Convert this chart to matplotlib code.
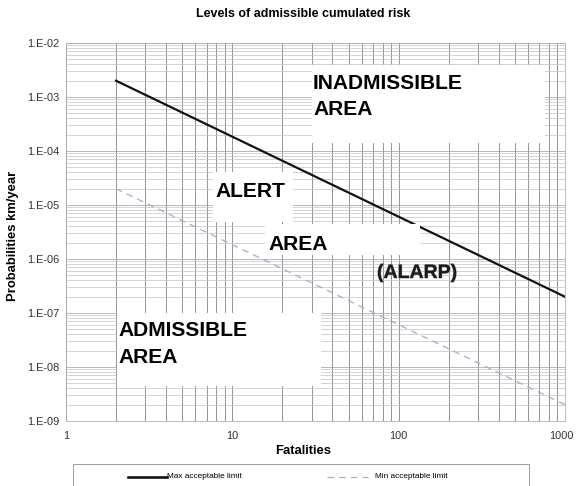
import matplotlib
matplotlib.use("Agg")
import matplotlib.pyplot as plt
from matplotlib.lines import Line2D
from matplotlib.patches import Rectangle
from matplotlib.ticker import FixedLocator, LogLocator, NullFormatter
from matplotlib.transforms import ScaledTranslation
import matplotlib.patheffects as pe

# Risk limit curves (fatalities vs. probability per km per year)
fatalities = [2, 1000]
max_limit = [2e-3, 2e-7]
min_limit = [2e-5, 2e-9]

x_ticks = [1, 10, 100, 1000]
x_tick_labels = ["1", "10", "100", "1000"]
y_ticks = [1e-9, 1e-8, 1e-7, 1e-6, 1e-5, 1e-4, 1e-3, 1e-2]
y_tick_labels = ["1.E-09", "1.E-08", "1.E-07", "1.E-06",
                 "1.E-05", "1.E-04", "1.E-03", "1.E-02"]

series_names = ["Max acceptable limit", "Min acceptable limit"]

plt.rcParams["font.family"] = ["Liberation Sans", "DejaVu Sans"]

W, H = 576, 486
fig = plt.figure(figsize=(W / 72, H / 72), dpi=72)


def fx(px):
    return px / W


def fy(py):
    return 1 - py / H


ax = fig.add_axes([fx(66), fy(421), fx(565) - fx(66), fy(43) - fy(421)])
ax.set_xscale("log")
ax.set_yscale("log")
ax.set_xlim(1, 1000)
ax.set_ylim(1e-9, 1e-2)

ax.xaxis.set_major_locator(FixedLocator(x_ticks))
ax.set_xticklabels(x_tick_labels)
ax.xaxis.set_minor_locator(LogLocator(base=10, subs=range(2, 10)))
ax.xaxis.set_minor_formatter(NullFormatter())
ax.yaxis.set_major_locator(FixedLocator(y_ticks))
ax.set_yticklabels(y_tick_labels)
ax.yaxis.set_minor_locator(LogLocator(base=10, subs=range(2, 10)))
ax.yaxis.set_minor_formatter(NullFormatter())

ax.tick_params(which="both", length=0, labelsize=11, colors="#333333", pad=7)
ax.tick_params(axis="x", pad=10)
# keep the last x label inside the canvas
last = ax.get_xticklabels()[-1]
last.set_transform(last.get_transform() + ScaledTranslation(-4 / 72, 0, fig.dpi_scale_trans))

ax.grid(True, axis="x", which="both", color="#969696", lw=1.0)
ax.grid(True, axis="y", which="minor", color="#c2c2c2", lw=0.7)
ax.grid(True, axis="y", which="major", color="#a8a8a8", lw=0.8)
ax.set_axisbelow(True)
for s in ax.spines.values():
    s.set_color("#b0b0b0")
    s.set_linewidth(0.8)

max_style = dict(color="#111111", lw=2.2, ls="-")
min_style = dict(color="#a8acd4", lw=1.3, ls=(0, (5, 4)))
ax.plot(fatalities, max_limit, **max_style, zorder=3)
ax.plot(fatalities, min_limit, **min_style, zorder=3)

ax.set_xlabel("Fatalities", fontsize=13, fontweight="bold")
ax.xaxis.set_label_coords((303 - 66) / 499, (421 - 445) / 378)
ax.set_ylabel("Probabilities km/year", fontsize=13, fontweight="bold")
ax.yaxis.set_label_coords((19 - 66) / 499, (421 - 236) / 378)
fig.text(fx(303), fy(14), "Levels of admissible cumulated risk",
         ha="center", va="center", fontsize=12.5, fontweight="bold")


def box(x0, y0, x1, y1):
    fig.add_artist(Rectangle((fx(x0), fy(y1)), fx(x1) - fx(x0), fy(y0) - fy(y1),
                             transform=fig.transFigure, facecolor="white",
                             edgecolor="none", zorder=4))


def label(x, y, s, size=21, **kw):
    fig.text(fx(x), fy(y), s, ha="left", va="baseline", fontsize=size,
             fontweight="bold", zorder=5, **kw)


# Zone annotations
box(312, 65, 545, 143)
label(313, 89, "INADMISSIBLE")
label(313, 115, "AREA")

box(213, 172, 293, 222)
label(215, 197, "ALERT")

box(265, 224, 420, 255)
label(268, 250, "AREA")

label(377, 278, "(ALARP)", size=19.5, color="#1a1a1a",
      path_effects=[pe.withStroke(linewidth=1.0, foreground="#9a9a9a")])

box(117, 313, 321, 386)
label(118, 336, "ADMISSIBLE")
label(118, 363, "AREA")

# Legend strip along the bottom
fig.add_artist(Rectangle((fx(73), fy(490)), fx(529) - fx(73), fy(464) - fy(490),
                         transform=fig.transFigure, facecolor="white",
                         edgecolor="#a0a0a0", lw=1.0, zorder=4))
fig.add_artist(Line2D([fx(128), fx(167)], [fy(477), fy(477)],
                      transform=fig.transFigure, zorder=5,
                      **{**max_style, "lw": 2.6}))
fig.text(fx(167), fy(477), series_names[0], ha="left", va="center",
         fontsize=8.3, zorder=5)
fig.add_artist(Line2D([fx(327), fx(368)], [fy(477), fy(477)],
                      transform=fig.transFigure, zorder=5, **min_style))
fig.text(fx(375), fy(477), series_names[1], ha="left", va="center",
         fontsize=8.3, zorder=5)

fig.savefig("out.png", dpi=72)
